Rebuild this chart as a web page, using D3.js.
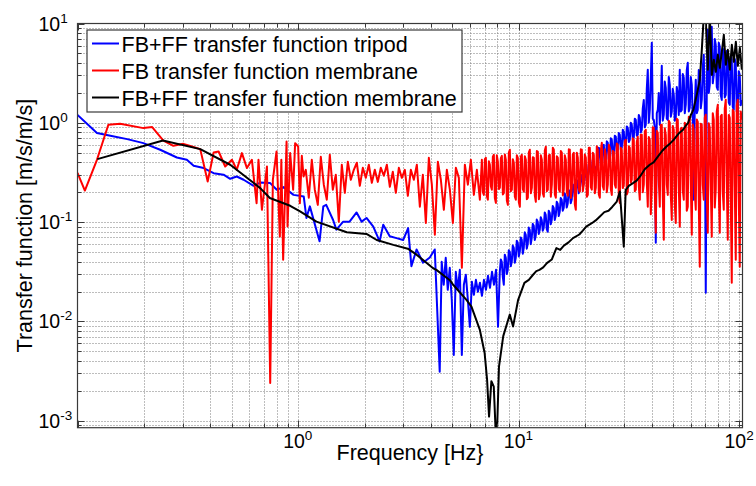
<!DOCTYPE html>
<html>
<head>
<meta charset="utf-8">
<script src="https://cdn.jsdelivr.net/npm/d3@7"></script>
<style>
body { margin: 0; background: #fff; }
svg { display: block; font-family: "Liberation Sans", Arial, Helvetica, sans-serif; }
</style>
</head>
<body>
<svg id="chart" width="756" height="486"></svg>
<script>
// ---- data (frequency in Hz, transfer function in m/s/m/s) ----

// FB+FF transfer function tripod (blue)
var bluePairs = [
	[0.1, 1.2], [0.1225, 0.788], [0.141, 0.74], [0.168, 0.685], [0.199, 0.624], [0.237, 0.535],
	[0.282, 0.447], [0.313, 0.424], [0.336, 0.369], [0.373, 0.35], [0.414, 0.311], [0.459, 0.30],
	[0.492, 0.273], [0.527, 0.288], [0.566, 0.267], [0.628, 0.232], [0.673, 0.25], [0.747, 0.247],
	[0.8, 0.212], [0.859, 0.225], [0.953, 0.188], [1.06, 0.181], [1.09, 0.11], [1.13, 0.144],
	[1.25, 0.064], [1.3, 0.144], [1.34, 0.149], [1.44, 0.105], [1.49, 0.084], [1.6, 0.101],
	[1.71, 0.101], [1.84, 0.125], [1.94, 0.101], [2.04, 0.11], [2.19, 0.09], [2.34, 0.064],
	[2.43, 0.094], [2.6, 0.072], [2.79, 0.069], [2.99, 0.066], [3.15, 0.087], [3.26, 0.036],
	[3.44, 0.053], [3.68, 0.039], [3.95, 0.044], [4.16, 0.053]
];
// blue, dense part 4.38 .. 8.05 Hz (bins equally spaced in log f)
var blueLowRange = [4.38, 8.05];
var blueLow = [
	0.00311, 0.0398, 0.0234, 0.0437, 0.0208, 0.0347, 0.0165, 0.0046, 0.0316, 0.0208,
	0.0331, 0.0046, 0.0234, 0.0295, 0.0165, 0.00882, 0.0251, 0.0185, 0.0262, 0.0199,
	0.0245, 0.0181, 0.0262, 0.0208, 0.0288, 0.0218, 0.0316, 0.0234, 0.0331, 0.00882
];
// blue, dense part 8.2 .. 22.3 Hz
var blueMidRange = [8.2, 22.3];
var blueMid = [
	0.0316, 0.0420, 0.0398, 0.0280, 0.0234, 0.0470, 0.0437, 0.0300, 0.0331, 0.0520, 0.0502, 0.0360, 0.0398, 0.0580, 0.0551, 0.0390, 0.0437, 0.0650, 0.0619, 0.0450,
	0.0502, 0.0700, 0.0664, 0.0480, 0.0551, 0.0790, 0.0745, 0.0540, 0.0605, 0.0880, 0.0836, 0.0600, 0.0695, 0.0960, 0.0918, 0.0660, 0.0728, 0.1060, 0.1007, 0.0760,
	0.0836, 0.1120, 0.105, 0.0820, 0.0876, 0.1250, 0.118, 0.0850, 0.0799, 0.1300, 0.124, 0.0950, 0.105, 0.1450, 0.139, 0.1050, 0.1157, 0.1600, 0.153, 0.1150,
	0.127, 0.1750, 0.168, 0.1300, 0.139, 0.1950, 0.184, 0.1400, 0.153, 0.2100, 0.202, 0.1550, 0.168, 0.2400, 0.232, 0.1800, 0.193, 0.2650, 0.254, 0.1950,
	0.212, 0.3000, 0.293, 0.2300, 0.243, 0.3300, 0.321, 0.2600, 0.279, 0.3800, 0.369, 0.3000, 0.321, 0.4200, 0.405, 0.3300, 0.352
];
// blue, dense part 22.8 .. 102.4 Hz
var blueHighRange = [22.8, 102.4];
var blueHigh = [
	0.378, 0.560, 0.535, 0.370, 0.352, 0.590, 0.600, 0.400, 0.424, 0.650, 0.629, 0.430, 0.444, 0.700, 0.674, 0.460, 0.476, 0.740, 0.723, 0.500,
	0.535, 0.790, 0.757, 0.540, 0.560, 0.850, 0.812, 0.580, 0.600, 0.920, 0.891, 0.640, 0.674, 1.00, 0.955, 0.680, 0.706, 1.10, 1.07, 0.740,
	0.757, 1.20, 1.12, 0.800, 0.850, 1.40, 1.70, 0.900, 0.955, 2.20, 3.42, 1.00, 1.35, 2.80, 6.39, 1.10, 1.07, 0.900, 0.0619, 1.25,
	1.35, 2.00, 0.955, 1.60, 3.75, 1.05, 1.20, 2.60, 2.25, 1.10, 1.07, 2.90, 2.41, 1.15, 1.29, 2.20, 1.91, 1.05, 1.12, 2.30,
	1.91, 1.20, 3.42, 1.30, 1.35, 3.10, 2.84, 1.25, 1.52, 3.40, 4.02, 1.30, 1.42, 2.90, 2.41, 1.10, 0.168, 1.50, 2.71, 1.25,
	1.35, 3.40, 2.97, 1.40, 1.70, 3.60, 4.84, 1.50, 0.0194, 2.20, 8.64, 2.00, 2.41, 7.20, 9.26, 2.50, 3.04, 7.00, 6.10, 2.30,
	2.15, 6.40, 5.83, 1.90, 1.70, 5.60, 5.19, 1.80, 1.91, 5.30, 4.84, 1.60, 1.52, 4.70, 4.31, 1.45, 1.35, 4.40, 4.02, 1.30,
	1.20, 3.30, 3.04, 1.50, 1.70
];

// FB transfer function membrane (red)
var redPairs = [
	[0.1, 0.313], [0.108, 0.208], [0.1225, 0.424], [0.138, 0.955], [0.156, 0.977], [0.199, 0.884],
	[0.218, 0.905], [0.245, 0.663], [0.272, 0.587], [0.302, 0.614], [0.33, 0.577], [0.36, 0.543],
	[0.389, 0.256], [0.414, 0.502], [0.436, 0.514], [0.467, 0.363], [0.501, 0.424], [0.527, 0.336],
	[0.556, 0.495], [0.586, 0.35], [0.617, 0.424], [0.648, 0.155], [0.661, 0.424], [0.685, 0.133],
	[0.722, 0.363], [0.747, 0.0024], [0.768, 0.267], [0.798, 0.514], [0.826, 0.0714], [0.839, 0.424],
	[0.855, 0.0417], [0.886, 0.648], [0.895, 0.0902], [0.92, 0.495], [0.949, 0.212], [0.969, 0.624],
	[1.0, 0.577], [1.018, 0.155], [1.039, 0.465], [1.058, 0.288]
];
var redMidRange = [1.083, 6.66];
var redMid = [
	0.336, 0.176, 0.424, 0.212, 0.149, 0.455, 0.238, 0.168, 0.476, 0.212,
	0.300, 0.101, 0.378, 0.197, 0.405, 0.267, 0.336, 0.396, 0.232, 0.352,
	0.279, 0.378, 0.249, 0.336, 0.254, 0.352, 0.293, 0.378, 0.227, 0.321,
	0.197, 0.352, 0.279, 0.336, 0.184, 0.336, 0.267, 0.378, 0.143, 0.300,
	0.098, 0.444, 0.238, 0.0745, 0.405, 0.267, 0.133, 0.336, 0.212, 0.098,
	0.352, 0.279, 0.0347, 0.378, 0.238, 0.424, 0.188, 0.336, 0.168
];
// red, dense part 6.8 .. 102.4 Hz
var redHighRange = [6.80, 102.4];
var redHigh = [
	0.424, 0.200, 0.188, 0.430, 0.444, 0.182, 0.168, 0.410, 0.378, 0.230, 0.212, 0.455, 0.476, 0.175, 0.156, 0.470, 0.405, 0.215, 0.222, 0.440,
	0.465, 0.190, 0.197, 0.480, 0.424, 0.165, 0.149, 0.500, 0.535, 0.205, 0.212, 0.430, 0.396, 0.180, 0.168, 0.470, 0.444, 0.158, 0.143, 0.455,
	0.476, 0.215, 0.202, 0.460, 0.424, 0.170, 0.176, 0.505, 0.535, 0.195, 0.222, 0.450, 0.444, 0.185, 0.160, 0.520, 0.510, 0.170, 0.188, 0.470,
	0.424, 0.195, 0.180, 0.530, 0.573, 0.205, 0.212, 0.470, 0.476, 0.180, 0.238, 0.560, 0.535, 0.190, 0.176, 0.460, 0.444, 0.215, 0.202, 0.520,
	0.499, 0.185, 0.212, 0.470, 0.424, 0.200, 0.184, 0.540, 0.535, 0.175, 0.222, 0.480, 0.499, 0.150, 0.133, 0.500, 0.444, 0.215, 0.202, 0.540,
	0.535, 0.205, 0.238, 0.480, 0.444, 0.180, 0.188, 0.560, 0.560, 0.225, 0.212, 0.500, 0.476, 0.195, 0.222, 0.580, 0.535, 0.190, 0.176, 0.530,
	0.629, 0.230, 0.212, 0.540, 0.476, 0.200, 0.238, 0.600, 0.560, 0.215, 0.188, 0.520, 0.510, 0.240, 0.222, 0.620, 0.600, 0.180, 0.156, 0.560,
	0.535, 0.220, 0.238, 0.650, 0.674, 0.190, 0.202, 0.580, 0.560, 0.250, 0.267, 0.700, 0.674, 0.205, 0.212, 0.640, 0.723, 0.230, 0.168, 0.760,
	0.757, 0.200, 0.238, 0.820, 0.850, 0.250, 0.143, 0.720, 0.674, 0.120, 0.212, 0.900, 0.891, 0.210, 0.078, 0.830, 0.793, 0.260, 0.143, 0.950,
	0.955, 0.180, 0.0664, 0.880, 0.757, 0.240, 0.188, 1.05, 1.0, 0.190, 0.105, 0.930, 0.850, 0.150, 0.098, 1.10, 1.072, 0.230, 0.0897, 0.870,
	0.891, 0.210, 0.168, 1.00, 0.955, 0.130, 0.143, 1.15, 1.123, 0.250, 0.0745, 0.960, 0.850, 0.200, 0.133, 1.08, 1.023, 0.160, 0.0355, 0.980,
	0.955, 0.240, 0.168, 1.12, 1.204, 0.190, 0.078, 0.990, 0.891, 0.230, 0.0711, 1.25, 1.072, 0.140, 0.212, 1.30, 1.518, 0.210, 0.078, 1.16,
	1.204, 0.200, 0.133, 1.40, 1.704, 0.250, 0.0664, 1.20, 1.123, 0.180, 0.0245, 1.35, 1.291, 0.230, 0.0417, 1.50, 1.704, 0.190, 0.0355, 1.30,
	1.072
];

// FB+FF transfer function membrane (black)
var blackPairs = [
	[0.123, 0.431], [0.244, 0.663], [0.36, 0.543], [0.492, 0.378], [0.673, 0.22], [0.744, 0.175],
	[0.92, 0.146], [1.02, 0.128], [1.21, 0.101], [1.66, 0.079], [2.04, 0.076], [2.27, 0.066],
	[2.70, 0.059], [3.14, 0.054], [3.44, 0.047], [4.09, 0.0343], [4.23, 0.033], [4.87, 0.026],
	[5.04, 0.0234], [5.79, 0.0165], [6.1, 0.0141], [6.66, 0.0082], [7.0, 0.0048], [7.18, 0.0026],
	[7.33, 0.0011], [7.51, 0.0025], [7.7, 0.0022], [7.92, 0.0005], [8.13, 0.0035], [8.5, 0.0071],
	[9.1, 0.0117], [9.42, 0.0089], [9.93, 0.0165], [10.6, 0.0244], [11.1, 0.0262], [11.6, 0.0295],
	[12.0, 0.0321], [12.4, 0.033], [12.9, 0.035], [13.4, 0.0386], [14.1, 0.042], [14.8, 0.0547],
	[15.4, 0.0525], [16.0, 0.058], [16.8, 0.0625], [17.6, 0.069], [18.8, 0.075], [19.5, 0.082],
	[20.2, 0.09], [21.5, 0.098], [22.3, 0.104], [23.3, 0.114], [24.4, 0.126], [25.5, 0.13],
	[26.5, 0.142], [27.8, 0.161], [28.7, 0.203], [29.9, 0.0565], [30.5, 0.21], [31.5, 0.232],
	[32.9, 0.247], [34.2, 0.262], [35.5, 0.29], [37.2, 0.34], [39.2, 0.378], [40.8, 0.4],
	[42.5, 0.45], [44.6, 0.52], [46.7, 0.577], [48.5, 0.62], [50.5, 0.68], [53, 0.78],
	[55.5, 0.85], [57, 0.93], [58.5, 1.0], [60.2, 1.2], [61.8, 1.35], [64, 1.9]
];
var blackHighRange = [66.1, 102.5];
var blackHigh = [2.71, 5.43, 12.2, 10.9, 3.42, 12.2, 3.04, 4.31, 3.26, 4.84, 3.58,
	5.19, 7.7, 3.84, 5.43, 3.42, 6.10, 4.11, 6.54, 3.75, 5.69, 3.42];

var legendLabels = ["FB+FF transfer function tripod", "FB transfer function membrane", "FB+FF transfer function membrane"];
var seriesColors = ["#0000ff", "#ff0000", "#000000"];
var xTickExps = [0, 1, 2];
var yTickExps = [1, 0, -1, -2, -3];

// ---- layout ----
var width = 756, height = 486;
var box = { l: 77.5, r: 742.5, t: 23.5, b: 427.7 };

// bins of a dense stretch are equally spaced in log f
function logBins(range, vals) {
	var n = vals.length - 1;
	return vals.map(function(v, i) {
		return [range[0] * Math.pow(range[1] / range[0], i / n), v];
	});
}

var blue = bluePairs.concat(logBins(blueLowRange, blueLow), logBins(blueMidRange, blueMid), logBins(blueHighRange, blueHigh));
var red = redPairs.concat(logBins(redMidRange, redMid), logBins(redHighRange, redHigh));
var black = blackPairs.concat(logBins(blackHighRange, blackHigh));

var x = d3.scaleLog().domain([0.1, 103.2]).range([box.l, box.r]);
var y = d3.scaleLog().domain([8.5e-4, 10]).range([box.b, box.t]);

var svg = d3.select("#chart");

// grid (major and minor, dotted)
var xGrid = [], yGrid = [];
for (var d = -1; d <= 2; d++) {
	for (var k = 1; k <= 9; k++) {
		var v = k * Math.pow(10, d);
		if (v > 0.1 && v < 103.2) xGrid.push(v);
	}
}
for (var d = -4; d <= 1; d++) {
	for (var k = 1; k <= 9; k++) {
		var v = k * Math.pow(10, d);
		if (v > 8.5e-4 && v < 10) yGrid.push(v);
	}
}

var grid = svg.append("g").attr("class", "grid")
	.attr("stroke", "#7a7a7a").attr("stroke-width", 1).attr("stroke-dasharray", "1,2");
grid.selectAll("line.gx").data(xGrid).enter().append("line")
	.attr("class", "gx")
	.attr("x1", function(d) { return Math.round(x(d)) + 0.5; })
	.attr("x2", function(d) { return Math.round(x(d)) + 0.5; })
	.attr("y1", box.t).attr("y2", box.b);
grid.selectAll("line.gy").data(yGrid).enter().append("line")
	.attr("class", "gy")
	.attr("y1", function(d) { return Math.round(y(d)) + 0.5; })
	.attr("y2", function(d) { return Math.round(y(d)) + 0.5; })
	.attr("x1", box.l).attr("x2", box.r);

// curves
svg.append("clipPath").attr("id", "plotclip")
	.append("rect").attr("x", box.l).attr("y", box.t)
	.attr("width", box.r - box.l).attr("height", box.b - box.t);

var line = d3.line()
	.x(function(d) { return x(d[0]); })
	.y(function(d) { return y(d[1]); });

var curves = svg.append("g").attr("clip-path", "url(#plotclip)");
[blue, red, black].forEach(function(s, i) {
	curves.append("path")
		.attr("d", line(s))
		.attr("fill", "none")
		.attr("stroke", seriesColors[i])
		.attr("stroke-width", 2)
		.attr("stroke-linejoin", "round");
});

// axes box and inward ticks on all four sides
var axes = svg.append("g").attr("stroke", "#3a3a3a");
axes.append("rect")
	.attr("x", box.l).attr("y", box.t)
	.attr("width", box.r - box.l).attr("height", box.b - box.t)
	.attr("fill", "none").attr("stroke-width", 1.2);

function tickLen(v) {
	var e = Math.log10(v);
	return Math.abs(e - Math.round(e)) < 1e-9 ? 7 : 4;
}
xGrid.concat([0.1]).forEach(function(v) {
	var px = Math.round(x(v)) + 0.5, len = tickLen(v);
	axes.append("line").attr("x1", px).attr("x2", px).attr("y1", box.b).attr("y2", box.b - len);
	axes.append("line").attr("x1", px).attr("x2", px).attr("y1", box.t).attr("y2", box.t + len);
});
yGrid.concat([10]).forEach(function(v) {
	var py = Math.round(y(v)) + 0.5, len = tickLen(v);
	axes.append("line").attr("y1", py).attr("y2", py).attr("x1", box.l).attr("x2", box.l + len);
	axes.append("line").attr("y1", py).attr("y2", py).attr("x1", box.r).attr("x2", box.r - len);
});

// tick labels 10^n
function powLabel(px, py, n) {
	var t = svg.append("text").attr("x", px).attr("y", py)
		.attr("font-size", "19.5px").attr("fill", "#000");
	t.append("tspan").text("10");
	t.append("tspan").attr("dy", -8).attr("font-size", "13.5px").text(n);
}
xTickExps.forEach(function(n) {
	powLabel(x(Math.pow(10, n)) - 15, 448, n);
});
yTickExps.forEach(function(n) {
	powLabel(38.5, y(Math.pow(10, n)) + 7, n);
});

// axis labels
svg.append("text")
	.attr("x", (box.l + box.r) / 2).attr("y", 460)
	.attr("text-anchor", "middle").attr("font-size", "21.5px")
	.text("Frequency [Hz}");
svg.append("text")
	.attr("transform", "translate(31.5," + ((box.t + box.b) / 2) + ") rotate(-90)")
	.attr("text-anchor", "middle").attr("font-size", "21.5px")
	.text("Transfer function [m/s/m/s]");

// legend
var legend = svg.append("g");
legend.append("rect")
	.attr("x", 87).attr("y", 30).attr("width", 375).attr("height", 82)
	.attr("fill", "#fff").attr("stroke", "#3a3a3a").attr("stroke-width", 1.2);
legendLabels.forEach(function(lbl, i) {
	var ly = 43.5 + i * 27;
	legend.append("line")
		.attr("x1", 92).attr("x2", 119).attr("y1", ly).attr("y2", ly)
		.attr("stroke", seriesColors[i]).attr("stroke-width", 2);
	legend.append("text")
		.attr("x", 121.5).attr("y", ly + 8.5)
		.attr("font-size", "21.5px")
		.text(lbl);
});
</script>
</body>
</html>
